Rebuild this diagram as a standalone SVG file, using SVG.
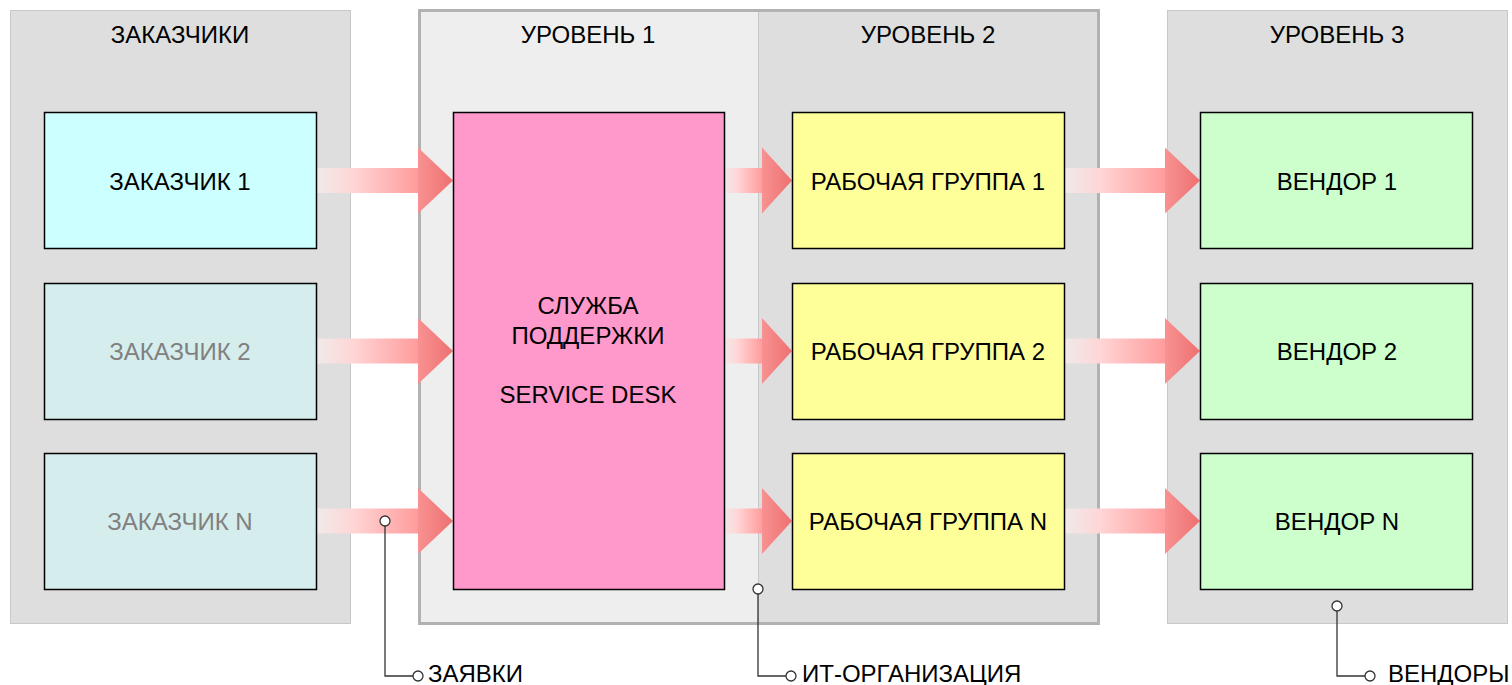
<svg xmlns="http://www.w3.org/2000/svg" width="1512" height="685" viewBox="0 0 1512 685">
<defs>
<linearGradient id="shaft" x1="0" y1="0" x2="1" y2="0">
<stop offset="0" stop-color="#f0eaea"/>
<stop offset="0.35" stop-color="#ffd6d6"/>
<stop offset="1" stop-color="#ff9c9c"/>
</linearGradient>
<linearGradient id="head" x1="0" y1="0" x2="1" y2="0">
<stop offset="0" stop-color="#f89292"/>
<stop offset="1" stop-color="#ee7070"/>
</linearGradient>
<g id="arr1">
<rect x="0" y="-12.5" width="101" height="25" fill="url(#shaft)"/>
<polygon points="101,-33 136,0 101,33" fill="url(#head)"/>
</g>
<g id="arr2">
<rect x="0" y="-12.5" width="38" height="25" fill="url(#shaft)"/>
<polygon points="38,-33 68,0 38,33" fill="url(#head)"/>
</g>
</defs>
<style>
.lane{fill:#dedede;stroke:#c8c8c8;stroke-width:1}
.node{stroke:#000;stroke-width:1.5}
.t{font-family:"Liberation Sans",Arial,sans-serif;font-size:24px;fill:#000;text-anchor:middle}
.g{fill:#808080}
.leg{fill:none;stroke:#333;stroke-width:1.3}
.dot{fill:#fff;stroke:#333;stroke-width:1.3}
.lt{font-family:"Liberation Sans",Arial,sans-serif;font-size:24px;fill:#000}
</style>
<rect width="1512" height="685" fill="#fff"/>
<g id="lane-customers">
<rect class="lane" x="10.5" y="10.5" width="340" height="613"/>
<text class="t" x="180" y="42.5">ЗАКАЗЧИКИ</text>
</g>
<g id="lane-it">
<rect x="419.5" y="10.5" width="339" height="613" fill="#eeeeee"/>
<rect x="758.5" y="10.5" width="340" height="613" fill="#dedede"/>
<line x1="758.5" y1="11" x2="758.5" y2="623" stroke="#c8c8c8" stroke-width="1"/>
<rect x="419.5" y="10.5" width="679" height="613" fill="none" stroke="#b2b2b2" stroke-width="3"/>
<text class="t" x="588" y="42.5">УРОВЕНЬ 1</text>
<text class="t" x="928" y="42.5">УРОВЕНЬ 2</text>
</g>
<g id="lane-vendors">
<rect class="lane" x="1167.5" y="10.5" width="340" height="613"/>
<text class="t" x="1337" y="42.5">УРОВЕНЬ 3</text>
</g>
<g id="connectors">
<use href="#arr1" x="317" y="180.5"/>
<use href="#arr1" x="317" y="351"/>
<use href="#arr1" x="317" y="521"/>
<use href="#arr2" x="724" y="180.5"/>
<use href="#arr2" x="724" y="351"/>
<use href="#arr2" x="724" y="521"/>
<use href="#arr1" x="1064" y="180.5"/>
<use href="#arr1" x="1064" y="351"/>
<use href="#arr1" x="1064" y="521"/>
</g>
<g id="customer1"><rect class="node" x="44.5" y="112.5" width="272" height="136" fill="#ccffff"/><text class="t" x="180" y="189.5">ЗАКАЗЧИК 1</text></g>
<g id="customer2"><rect class="node" x="44.5" y="283.5" width="272" height="136" fill="#d6eded"/><text class="t g" x="180" y="359.5">ЗАКАЗЧИК 2</text></g>
<g id="customerN"><rect class="node" x="44.5" y="453.5" width="272" height="136" fill="#d6eded"/><text class="t g" x="180" y="529.5">ЗАКАЗЧИК N</text></g>
<g id="servicedesk"><rect class="node" x="453.5" y="112.5" width="271" height="477" fill="#ff99cc"/>
<text class="t" x="588" y="313.5">СЛУЖБА</text><text class="t" x="588" y="343.5">ПОДДЕРЖКИ</text><text class="t" x="588" y="402.5">SERVICE DESK</text></g>
<g id="group1"><rect class="node" x="792.5" y="112.5" width="272" height="136" fill="#ffff99"/><text class="t" x="928" y="189.5">РАБОЧАЯ ГРУППА 1</text></g>
<g id="group2"><rect class="node" x="792.5" y="283.5" width="272" height="136" fill="#ffff99"/><text class="t" x="928" y="359.5">РАБОЧАЯ ГРУППА 2</text></g>
<g id="groupN"><rect class="node" x="792.5" y="453.5" width="272" height="136" fill="#ffff99"/><text class="t" x="928" y="529.5">РАБОЧАЯ ГРУППА N</text></g>
<g id="vendor1"><rect class="node" x="1200.5" y="112.5" width="272" height="136" fill="#ccffcc"/><text class="t" x="1337" y="189.5">ВЕНДОР 1</text></g>
<g id="vendor2"><rect class="node" x="1200.5" y="283.5" width="272" height="136" fill="#ccffcc"/><text class="t" x="1337" y="359.5">ВЕНДОР 2</text></g>
<g id="vendorN"><rect class="node" x="1200.5" y="453.5" width="272" height="136" fill="#ccffcc"/><text class="t" x="1337" y="529.5">ВЕНДОР N</text></g>
<g id="legend-requests">
<polyline class="leg" points="385,526 385,676 413,676"/>
<circle class="dot" cx="385" cy="521" r="5"/>
<circle class="dot" cx="418" cy="676" r="5"/>
<text class="lt" x="428" y="682">ЗАЯВКИ</text>
</g>
<g id="legend-it">
<polyline class="leg" points="758,594 758,676 786,676"/>
<circle class="dot" cx="758" cy="589" r="5"/>
<circle class="dot" cx="791" cy="676" r="5"/>
<text class="lt" x="802" y="682">ИТ-ОРГАНИЗАЦИЯ</text>
</g>
<g id="legend-vendors">
<polyline class="leg" points="1337,611 1337,676 1365,676"/>
<circle class="dot" cx="1337" cy="606" r="5"/>
<circle class="dot" cx="1370" cy="676" r="5"/>
<text class="lt" x="1388" y="682">ВЕНДОРЫ</text>
</g>
</svg>
